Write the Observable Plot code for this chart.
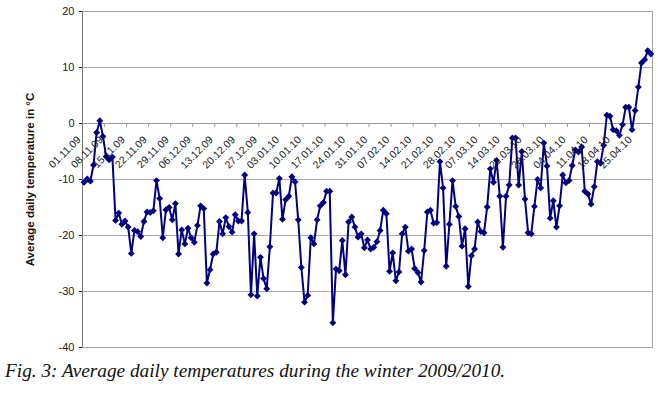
<!DOCTYPE html>
<html>
<head>
<meta charset="utf-8">
<script src="https://cdn.jsdelivr.net/npm/d3@7"></script>
<script src="https://cdn.jsdelivr.net/npm/@observablehq/plot@0.6"></script>
<style>
  html, body { margin: 0; padding: 0; background: #ffffff; }
  #wrap { position: relative; width: 658px; height: 394px; overflow: hidden; }
  #caption { position: absolute; left: 5px; top: 361px; font-family: "Liberation Serif", "Times New Roman", serif; font-style: italic; font-size: 19.3px; line-height: 19px; color: #111; white-space: nowrap; }
</style>
</head>
<body>
<div id="wrap"><div id="chart"></div><div id="caption">Fig. 3: Average daily temperatures during the winter 2009/2010.</div></div>
<script>
// Average daily temperature (°C), one value per day from 01.11.2009 to 30.04.2010
const temps = [
  -10.5, -9.9, -10.3, -7.4, -1.6, 0.5, -2.3, -5.9, -6.5, -6.0,
  -17.3, -16.0, -18.0, -17.4, -18.5, -23.2, -19.1, -19.3, -20.2, -17.5,
  -15.8, -15.9, -15.6, -10.2, -13.4, -20.4, -15.4, -15.0, -17.2, -14.3,
  -23.3, -19.0, -21.5, -18.7, -20.4, -21.2, -18.2, -14.7, -15.2, -28.5,
  -26.1, -23.3, -23.0, -17.5, -19.7, -16.8, -18.4, -19.4, -16.3, -17.4,
  -17.4, -9.2, -15.9, -30.6, -19.7, -30.8, -23.9, -27.7, -29.5, -22.0,
  -12.4, -12.4, -9.8, -17.1, -13.6, -13.0, -9.5, -10.4, -17.2, -25.7,
  -31.9, -30.7, -20.4, -21.5, -17.2, -14.7, -14.1, -12.1, -12.1, -35.6,
  -26.0, -26.3, -20.9, -27.0, -17.6, -16.7, -18.5, -20.3, -19.7, -22.2,
  -20.8, -22.4, -22.1, -21.1, -19.1, -15.5, -16.1, -26.4, -23.1, -28.1,
  -26.5, -19.7, -18.5, -22.8, -22.4, -25.9, -26.6, -28.3, -22.7, -15.8,
  -15.5, -17.8, -17.7, -6.8, -11.5, -25.5, -18.0, -10.2, -14.8, -16.6,
  -21.9, -18.8, -29.1, -23.6, -22.4, -17.6, -19.3, -19.5, -14.9, -8.1,
  -10.5, -6.6, -13.0, -22.1, -13.0, -11.0, -2.6, -2.6, -11.0, -5.0,
  -13.5, -19.5, -19.7, -14.8, -10.0, -11.5, -3.5, -7.6, -16.9, -13.8,
  -18.5, -14.7, -9.2, -10.6, -10.2, -7.5, -4.7, -5.1, -4.2, -12.1,
  -12.6, -14.4, -11.3, -6.8, -7.1, -3.9, 1.5, 1.3, -1.1, -1.3,
  -2.1, -0.2, 2.9, 2.9, -1.1, 2.3, 6.5, 10.8, 11.4, 13.0,
  12.4
];

// Category labels shown every 7th day
const tickLabels = [
  "01.11.09", "08.11.09", "15.11.09", "22.11.09", "29.11.09", "06.12.09",
  "13.12.09", "20.12.09", "27.12.09", "03.01.10", "10.01.10", "17.01.10",
  "24.01.10", "31.01.10", "07.02.10", "14.02.10", "21.02.10", "28.02.10",
  "07.03.10", "14.03.10", "21.03.10", "28.03.10", "04.04.10", "11.04.10",
  "18.04.10", "25.04.10"
];
const labelStep = 7;

const yTicks = [-40, -30, -20, -10, 0, 10, 20];
const gridValues = [-30, -20, -10, 10];
const yTitle = "Average daily temperature in °C";

const n = temps.length;
const boundaries = d3.range(0, n + 1, labelStep).map(b => b - 0.5);

const chart = Plot.plot({
  width: 658,
  height: 358,
  marginLeft: 82,
  marginRight: 6,
  marginTop: 11,
  marginBottom: 11,
  style: { fontFamily: "'Liberation Sans', Arial, sans-serif", fontSize: "11px", background: "transparent", color: "#1a1a1a", overflow: "visible" },
  x: { domain: [-0.5, n - 0.5], axis: null },
  y: { domain: [-40, 20], ticks: yTicks, tickFormat: d => String(d), tickSize: 3, tickPadding: 5, label: null },
  marks: [
    Plot.ruleY(gridValues, { stroke: "#a8a8a8", strokeWidth: 1 }),
    Plot.frame({ stroke: "#a0a0a0" }),
    Plot.ruleY([0], { stroke: "#9a9a9a", strokeWidth: 1 }),
    Plot.ruleX(boundaries, { x: d => d, y1: 0, y2: 0, insetBottom: -4, stroke: "#9a9a9a" }),
    Plot.ruleX([-0.5], { stroke: "#777" }),
    Plot.line(temps, { x: (d, i) => i, y: d => d, stroke: "#000080", strokeWidth: 2 }),
    Plot.dot(temps, { x: (d, i) => i, y: d => d, symbol: "diamond2", r: 3.1, fill: "#000080", stroke: "none" }),
    Plot.text(tickLabels, { x: (d, i) => i * labelStep, y: () => 0, text: d => d, rotate: -45, textAnchor: "end", dx: -5, dy: 14.5, fontSize: 10.5, fill: "#1a1a1a" }),
    Plot.text([yTitle], { frameAnchor: "left", textAnchor: "middle", rotate: -90, dx: -52, text: d => d, fontWeight: "bold", fontSize: 11.5, fill: "#111" })
  ]
});
document.getElementById("chart").appendChild(chart);
</script>
</body>
</html>
